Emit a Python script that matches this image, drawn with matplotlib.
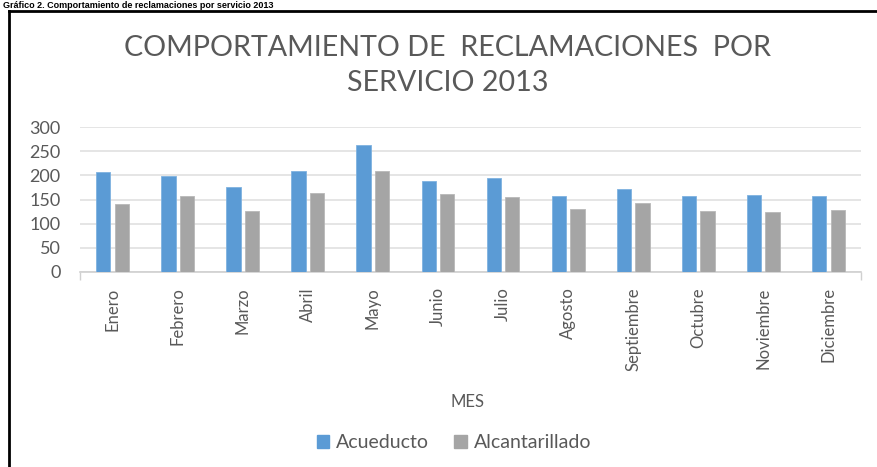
import matplotlib
matplotlib.use("Agg")
import matplotlib.pyplot as plt
from matplotlib.lines import Line2D
from matplotlib.patches import Patch
import numpy as np

months = ["Enero", "Febrero", "Marzo", "Abril", "Mayo", "Junio", "Julio",
          "Agosto", "Septiembre", "Octubre", "Noviembre", "Diciembre"]
acueducto = [207, 199, 176, 209, 263, 188, 194, 157, 172, 157, 159, 157]
alcantarillado = [140, 157, 127, 164, 209, 161, 155, 131, 142, 127, 124, 129]
yticks = [0, 50, 100, 150, 200, 250, 300]

W, H = 878, 467
fig = plt.figure(figsize=(W / 100, H / 100), dpi=100)
fig.patch.set_facecolor("white")

def fx(px):
    return px / W

def fy(py):
    return 1 - py / H

FONT = ["Lato", "DejaVu Sans"]
TXT = "#595959"

ax = fig.add_axes([fx(80), fy(272), fx(861) - fx(80), fy(127) - fy(272)])
x = np.arange(len(months))
bw = 0.22
off = 0.142
ax.bar(x - off, acueducto, bw, color="#5B9BD5", edgecolor="#7fb2e0", linewidth=0.6, zorder=3)
ax.bar(x + off, alcantarillado, bw, color="#A5A5A5", edgecolor="#b8b8b8", linewidth=0.6, zorder=3)

ax.set_xlim(-0.5, len(months) - 0.5)
ax.set_ylim(0, 300)
ax.set_yticks(yticks)
ax.set_yticklabels([str(v) for v in yticks], fontsize=13, color=TXT, family=FONT)
ax.tick_params(axis="y", length=0, pad=14)
ax.yaxis.grid(True, color="#e0e0e0", linewidth=1.2, zorder=0)
ax.set_axisbelow(True)

ax.set_xticks(x)
ax.set_xticklabels(months, rotation=90, fontsize=12, color=TXT, family=FONT, va="top")
ax.tick_params(axis="x", length=0, pad=11)
ax.set_xticks([-0.5, len(months) - 0.5], minor=True)
ax.tick_params(axis="x", which="minor", length=6, color="#d0d0d0", width=1)

for s in ["top", "right", "left"]:
    ax.spines[s].set_visible(False)
ax.spines["bottom"].set_color("#d0d0d0")
ax.spines["bottom"].set_linewidth(1.2)

fig.text(fx(448), fy(48), "COMPORTAMIENTO DE  RECLAMACIONES  POR", ha="center", va="center",
         fontsize=20.6, color=TXT, family=FONT)
fig.text(fx(448), fy(83), "SERVICIO 2013", ha="center", va="center",
         fontsize=20.6, color=TXT, family=FONT)
fig.text(fx(468), fy(402), "MES", ha="center", va="center", fontsize=12, color=TXT, family=FONT)

handles = [Patch(facecolor="#5B9BD5", edgecolor="#5B9BD5", label="Acueducto"),
           Patch(facecolor="#A5A5A5", edgecolor="#A5A5A5", label="Alcantarillado")]
fig.legend(handles=handles, loc="center", bbox_to_anchor=(fx(454), fy(443)), ncol=2,
           frameon=False, prop={"family": FONT, "size": 14}, labelcolor=TXT,
           handlelength=0.65, handleheight=0.65, handletextpad=0.35, columnspacing=1.3)

# heading above the frame
fig.text(fx(3), fy(0.5), "Gráfico 2. Comportamiento de reclamaciones por servicio 2013",
         ha="left", va="top", fontsize=6.5, fontweight="bold", color="black",
         family=["Liberation Sans", "DejaVu Sans"])
fig.add_artist(Line2D([fx(9.5), fx(9.5)], [fy(10.5), 0], color="black", linewidth=2, transform=fig.transFigure))
fig.add_artist(Line2D([fx(9.5), 1], [fy(10.5), fy(10.5)], color="black", linewidth=2, transform=fig.transFigure))

fig.savefig("out.png", dpi=100, facecolor="white")
